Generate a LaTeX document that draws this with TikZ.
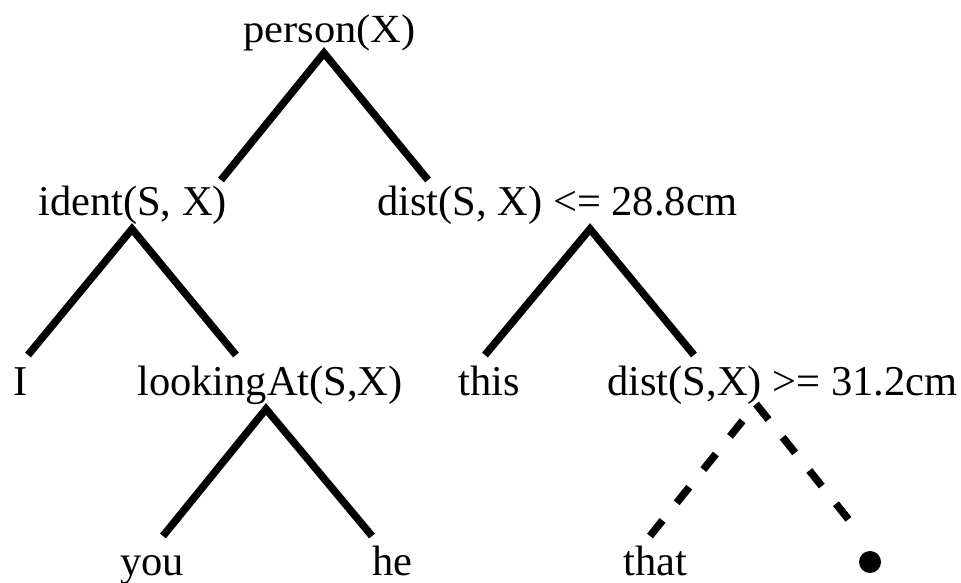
\documentclass[tikz,border=0pt]{standalone}
\usepackage{fontspec}
\setmainfont{Liberation Serif}
\begin{document}
\begin{tikzpicture}[x=1pt,y=-1pt,
  lbl/.style={anchor=base west, inner sep=0pt, font=\fontsize{42.5}{50}\selectfont},
  edge/.style={line width=7.5pt, line join=miter, miter limit=10},
  dedge/.style={line width=7.5pt, dash pattern=on 20pt off 22.6pt}]
\useasboundingbox (0,0) rectangle (961,582);
% labels
\node[lbl] (person) at (243,42) {\scalebox{1}[0.94]{person(X)}};
\node[lbl] (ident) at (38,215) {ident(S, X)};
\node[lbl] (dist1) at (377,215) {dist(S, X) <= 28.8cm};
\node[lbl] (I) at (13,395) {I};
\node[lbl] (looking) at (137,395) {lookingAt(S,X)};
\node[lbl] (this) at (458,395) {this};
\node[lbl] (dist2) at (607,395) {dist(S,X) >= 31.2cm};
\node[lbl] (you) at (120,575) {you};
\node[lbl] (he) at (372,575) {he};
\node[lbl] (that) at (623,575) {that};
\node[circle, fill, inner sep=0pt, minimum size=22pt] (dot) at (870,562) {};
% connector end points
\coordinate (pT) at (324,53);
\coordinate (pL) at (221,180);
\coordinate (pR) at (428,180);
\coordinate (iT) at (132,229);
\coordinate (iL) at (28,355);
\coordinate (iR) at (236,355);
\coordinate (dT) at (590,229);
\coordinate (dL) at (485,355);
\coordinate (dR) at (694,355);
\coordinate (lT) at (266,409);
\coordinate (lL) at (163,536);
\coordinate (lR) at (372,536);
\coordinate (eT) at (756,404);
\coordinate (eL) at (650,536);
\coordinate (eR) at (861,535);
% connectors
\draw[edge] (pL) -- (pT) -- (pR);
\draw[edge] (iL) -- (iT) -- (iR);
\draw[edge] (dL) -- (dT) -- (dR);
\draw[edge] (lL) -- (lT) -- (lR);
\draw[dedge] (eL) -- (eT);
\draw[dedge] (eT) -- (eR);
\end{tikzpicture}
\end{document}
